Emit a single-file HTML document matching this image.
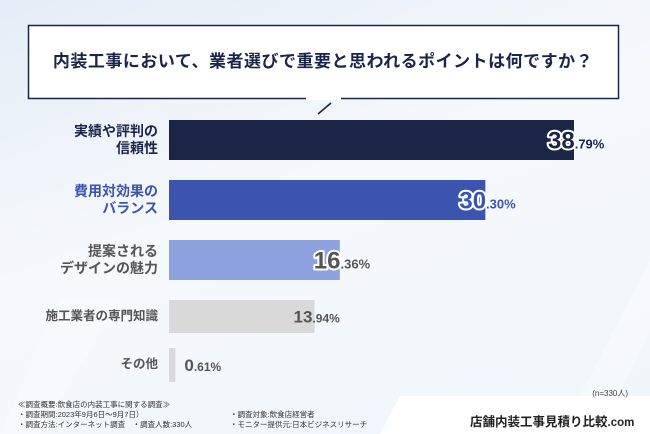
<!DOCTYPE html>
<html><head><meta charset="utf-8">
<style>
body{margin:0;width:650px;height:434px;overflow:hidden;font-family:"Liberation Sans","Noto Sans CJK JP",sans-serif;}
#wrap{position:relative;width:650px;height:434px;background:linear-gradient(160deg,#e4edf7 0%,#f6f9fc 45%,#eef5fa 100%);}
.t{position:absolute;}
svg text{font-family:"Liberation Sans","Noto Sans CJK JP",sans-serif;}
</style></head><body>
<div id="wrap">
<svg width="650" height="434" style="position:absolute;left:0;top:0">
  <polygon points="0,434 60,300 120,300 40,434" fill="#ffffff" opacity="0.25"/>
  <polygon points="560,434 650,260 650,330 600,434" fill="#ffffff" opacity="0.35"/>
  <polygon points="380,434 400,396 650,396 650,434" fill="#ffffff"/>
  <rect x="28.5" y="25.5" width="590" height="73" fill="#ffffff" stroke="#1b2548" stroke-width="1.5"/>
  <line x1="306" y1="98.5" x2="341" y2="98.5" stroke="#ffffff" stroke-width="3"/>
  <line x1="318" y1="114" x2="331" y2="103" stroke="#1b2548" stroke-width="1.6"/>
  <g id="bars"></g>
</svg>
<div class="t" style="left:28px;top:47px;width:590px;text-align:center;font-size:17px;font-weight:bold;color:#1b2548;letter-spacing:0.5px">内装工事において、業者選びで重要と思われるポイントは何ですか？</div>
<div id="labels"></div>
<div class="t" style="right:22px;top:388px;font-size:8px;color:#444">(n=330人)</div>
<div class="t" style="left:18px;top:400px;font-size:7.5px;color:#333;line-height:10px;white-space:pre">≪調査概要:飲食店の内装工事に関する調査≫
・調査期間:2023年9月6日～9月7日）
・調査方法:インターネット調査　・調査人数:330人</div>
<div class="t" style="left:230px;top:410px;font-size:7.5px;color:#333;line-height:10px;white-space:pre">・調査対象:飲食店経営者
・モニター提供元:日本ビジネスリサーチ</div>
<div class="t" style="left:470px;top:411px;font-size:12.5px;font-weight:bold;color:#222;white-space:nowrap">店舗内装工事見積り比較<span style="font-size:11.5px">.com</span></div>
</div>
<script>
const categories=["実績や評判の\n信頼性","費用対効果の\nバランス","提案される\nデザインの魅力","施工業者の専門知識","その他"];
const values=[38.79,30.30,16.36,13.94,0.61];
const barColors=["#1b2548","#3b55ae","#8ea2e0","#d9d9d9","#d9d9d9"];
const textColors=["#1b2548","#3b55ae","#555555","#555555","#555555"];
const x0=169, scale=405/38.79;
const rowTop=[120,180,240,300,348], rowH=[40,40,40,33,34];
function xs(v){return x0+v*scale;}
const NS='http://www.w3.org/2000/svg';
const g=document.getElementById('bars'), L=document.getElementById('labels');
values.forEach((v,i)=>{
  const r=document.createElementNS(NS,'rect');
  
  
  r.setAttribute('x',x0);r.setAttribute('y',rowTop[i]);
  r.setAttribute('width',Math.max(xs(v)-x0,0));r.setAttribute('height',rowH[i]);
  r.setAttribute('fill',barColors[i]);g.appendChild(r);
  const cy=rowTop[i]+rowH[i]/2;
  const lab=document.createElement('div');
  
  
  lab.className='t';
  lab.style.cssText=`right:${650-158}px;top:${cy-(categories[i].includes('\n')?17:9)}px;text-align:right;white-space:pre;font-size:14px;line-height:17px;font-weight:bold;color:${textColors[i]}`;
  if(i>=3){lab.style.fontSize='12.5px';}
  lab.textContent=categories[i];L.appendChild(lab);
  const parts=v.toFixed(2).split('.');
  const big=i<3?24:17, col=i<3?textColors[i]:'#555';
  const start=i<3?xs(v)-26:(i==4?xs(v)+9:xs(v)-21);
  const t=document.createElementNS(NS,'text');
  
  
  t.setAttribute('x',start);t.setAttribute('y',cy+big*0.36);
  t.setAttribute('fill',col);t.setAttribute('font-weight','bold');
  const s1=document.createElementNS(NS,'tspan');
  s1.setAttribute('font-size',big);
  if(i<3){s1.setAttribute('stroke','#fff');s1.setAttribute('stroke-width','4');s1.setAttribute('paint-order','stroke');s1.setAttribute('stroke-linejoin','round');}
  s1.textContent=parts[0];
  const s2=document.createElementNS(NS,'tspan');
  s2.setAttribute('font-size',i<3?13:12);
  s2.textContent='.'+parts[1]+'%';
  t.appendChild(s1);t.appendChild(s2);g.appendChild(t);
});
</script>
</body></html>
